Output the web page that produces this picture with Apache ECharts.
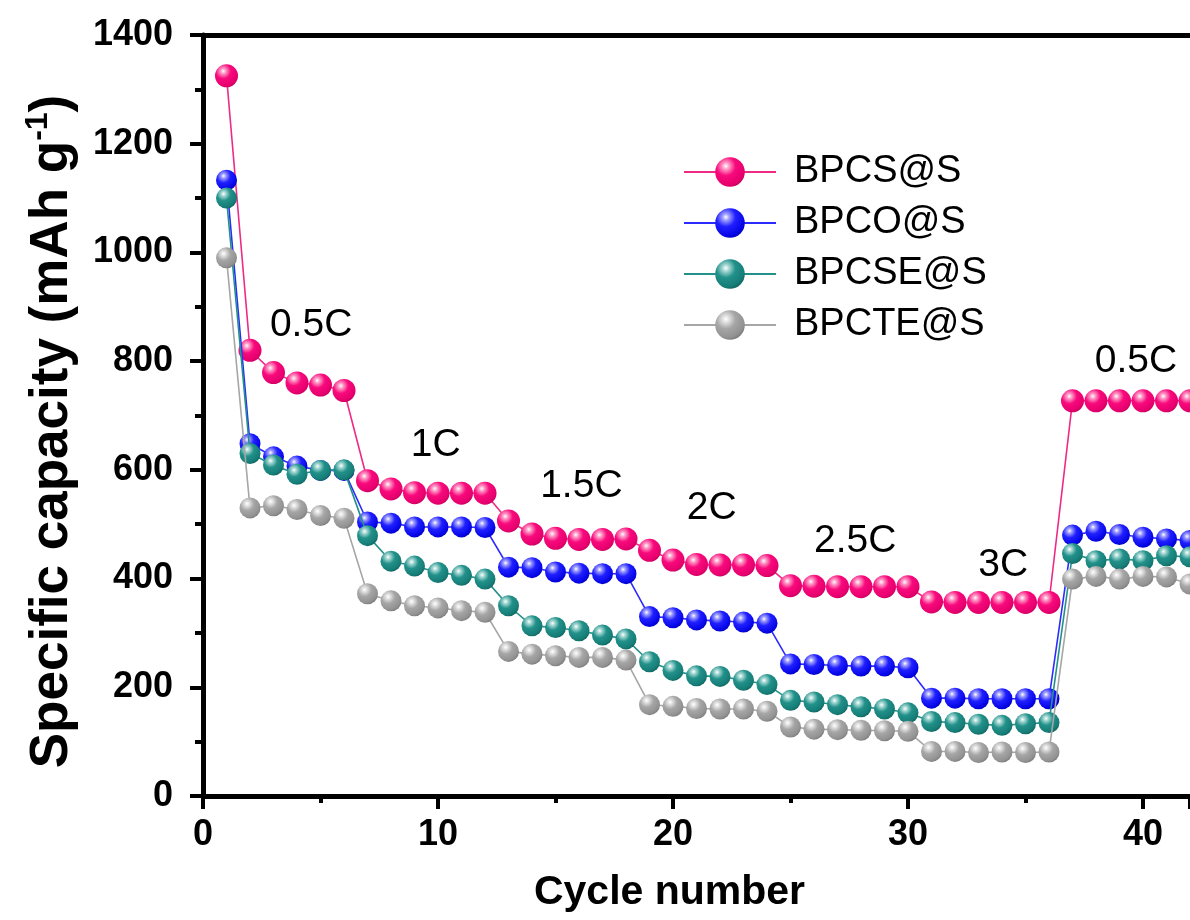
<!DOCTYPE html>
<html>
<head>
<meta charset="utf-8">
<title>Rate performance</title>
<script src="https://cdn.jsdelivr.net/npm/echarts@6/dist/echarts.min.js"></script>
<style>
  html, body { margin: 0; padding: 0; background: #ffffff; }
  #chart { width: 1190px; height: 920px; }
</style>
</head>
<body>
<div id="chart"></div>
<script>
// Cycle index 1..42
const cycles = [1,2,3,4,5,6,7,8,9,10,11,12,13,14,15,16,17,18,19,20,21,22,23,24,25,26,27,28,29,30,31,32,33,34,35,36,37,38,39,40,41,42];

// Discharge capacity (mAh g-1) per cycle
const bpcs = [1325, 820, 779, 760, 756, 746, 580, 565, 558, 557, 557, 557, 506, 482, 474, 472, 472, 473, 452, 434, 426, 425, 425, 424, 387, 386, 385, 385, 385, 385, 357, 356, 356, 356, 356, 356, 727, 727, 727, 727, 727, 727];
const bpco = [1133, 648, 624, 607, 599, 599, 504, 502, 495, 495, 495, 494, 421, 420, 412, 410, 409, 409, 330, 328, 324, 322, 320, 318, 243, 242, 240, 239, 239, 236, 180, 180, 179, 179, 179, 179, 480, 487, 481, 476, 473, 470];
const bpcse = [1100, 630, 609, 592, 599, 600, 479, 432, 423, 411, 406, 399, 350, 313, 310, 304, 296, 289, 247, 231, 221, 220, 213, 205, 176, 173, 168, 164, 160, 153, 137, 135, 132, 130, 133, 135, 446, 433, 436, 433, 442, 440];
const bpcte = [990, 530, 534, 527, 516, 511, 372, 359, 350, 346, 341, 338, 266, 261, 258, 255, 255, 250, 168, 165, 161, 160, 160, 156, 127, 123, 122, 121, 120, 119, 82, 82, 80, 81, 80, 81, 399, 404, 399, 404, 403, 390];

const seriesNames = ['BPCS@S', 'BPCO@S', 'BPCSE@S', 'BPCTE@S'];

// Current-rate annotations
const rateLabels = ['0.5C', '1C', '1.5C', '2C', '2.5C', '3C', '0.5C'];
// anchor of each annotation, in axis units [cycle, capacity]
const rateAnchors = [[4.6, 866], [9.9, 646], [16.1, 570], [21.65, 530], [27.75, 469], [34.05, 425], [39.7, 799]];

const xTicks = { min: 0, max: 42, step: 10 };
const yTicks = { min: 0, max: 1400, step: 200 };

const FONT = '"Liberation Sans", Arial, Helvetica, sans-serif';

// glossy sphere fill: white highlight toward upper-left
function sphere(stops) {
  return {
    type: 'radial', x: 0.36, y: 0.3, r: 0.78,
    colorStops: [
      { offset: 0, color: '#ffffff' },
      { offset: 0.14, color: stops[0] },
      { offset: 0.42, color: stops[1] },
      { offset: 0.8, color: stops[2] },
      { offset: 1, color: stops[3] }
    ]
  };
}

const styles = [
  { line: '#ee2a86', fill: sphere(['#ff9cc8', '#f80a7c', '#e8006f', '#c2005c']), size: 23 },
  { line: '#2b2bff', fill: sphere(['#a0a0ff', '#2020ff', '#0606e8', '#0000b4']), size: 21 },
  { line: '#23918a', fill: sphere(['#a6d8d4', '#22918a', '#167d77', '#0e5e59']), size: 21 },
  { line: '#a6a6a6', fill: sphere(['#e2e2e2', '#a6a6a6', '#929292', '#747474']), size: 21 }
];

const values = [bpcs, bpco, bpcse, bpcte];

const lineSeries = seriesNames.map((name, i) => ({
  name: name,
  type: 'line',
  data: cycles.map((c, k) => [c, values[i][k]]),
  symbol: 'circle',
  symbolSize: styles[i].size,
  showSymbol: true,
  lineStyle: { color: styles[i].line, width: 1.6 },
  itemStyle: { color: styles[i].fill, borderWidth: 0 },
  emphasis: { disabled: true },
  animation: false,
  z: 2 + i
}));

const rateSeries = {
  name: 'rates',
  type: 'scatter',
  symbolSize: 0,
  silent: true,
  animation: false,
  itemStyle: { opacity: 1 },
  data: rateLabels.map((t, i) => ({ name: t, value: rateAnchors[i] })),
  label: {
    show: true,
    position: 'inside',
    formatter: p => p.name,
    color: '#000',
    opacity: 1,
    fontFamily: FONT,
    fontSize: 39,
    fontWeight: 'normal'
  },
  z: 10
};

const axisBlack = { color: '#000', width: 5 };

const option = {
  backgroundColor: '#ffffff',
  animation: false,
  grid: { left: 203, right: -4, top: 35, bottom: 124, containLabel: false },
  legend: {
    data: seriesNames,
    orient: 'vertical',
    left: 678,
    top: 148,
    itemWidth: 92,
    itemHeight: 37,
    itemGap: 13,
    selectedMode: false,
    textStyle: {
      fontFamily: FONT,
      fontSize: 38,
      color: '#000',
      lineHeight: 38,
      padding: [0, 0, 0, 13]
    }
  },
  xAxis: [{
    type: 'value',
    min: xTicks.min, max: xTicks.max, interval: xTicks.step,
    name: 'Cycle number',
    nameLocation: 'middle',
    nameGap: 76,
    nameTextStyle: { fontFamily: FONT, fontSize: 41, fontWeight: 'bold', color: '#000', padding: [0, 54, 0, 0] },
    axisLine: { show: true, onZero: false, lineStyle: axisBlack },
    axisTick: { show: true, inside: false, length: 13, lineStyle: { color: '#000', width: 4 } },
    minorTick: { show: true, splitNumber: 2, length: 7, lineStyle: { color: '#000', width: 4 } },
    axisLabel: {
      margin: 21,
      fontFamily: FONT, fontSize: 36, fontWeight: 'bold', color: '#000',
      showMaxLabel: false,
      formatter: v => (v % xTicks.step === 0 ? String(v) : '')
    },
    splitLine: { show: false },
    minorSplitLine: { show: false }
  }, {
    type: 'value',
    position: 'top',
    min: xTicks.min, max: xTicks.max,
    axisLine: { show: true, onZero: false, lineStyle: axisBlack },
    axisTick: { show: false },
    axisLabel: { show: false },
    splitLine: { show: false }
  }],
  yAxis: {
    type: 'value',
    min: yTicks.min, max: yTicks.max, interval: yTicks.step,
    name: 'Specific capacity (mAh g{sup|-1})',
    nameLocation: 'middle',
    nameRotate: 90,
    nameGap: 121,
    nameTextStyle: {
      fontFamily: FONT, fontSize: 53, fontWeight: 'bold', color: '#000', lineHeight: 60,
      padding: [0, 32, 0, 0],
      rich: {
        sup: { fontFamily: FONT, fontSize: 32, fontWeight: 'bold', color: '#000', verticalAlign: 'top', lineHeight: 32 }
      }
    },
    axisLine: { show: true, onZero: false, lineStyle: axisBlack },
    axisTick: { show: true, inside: false, length: 13, lineStyle: { color: '#000', width: 4 } },
    minorTick: { show: true, splitNumber: 2, length: 8, lineStyle: { color: '#000', width: 4 } },
    axisLabel: {
      margin: 30, fontFamily: FONT, fontSize: 36, fontWeight: 'bold', color: '#000',
      formatter: v => String(v)
    },
    splitLine: { show: false },
    minorSplitLine: { show: false }
  },
  series: lineSeries.concat([rateSeries])
};

const chart = echarts.init(document.getElementById('chart'), null, { renderer: 'canvas' });
chart.setOption(option);
</script>
</body>
</html>
